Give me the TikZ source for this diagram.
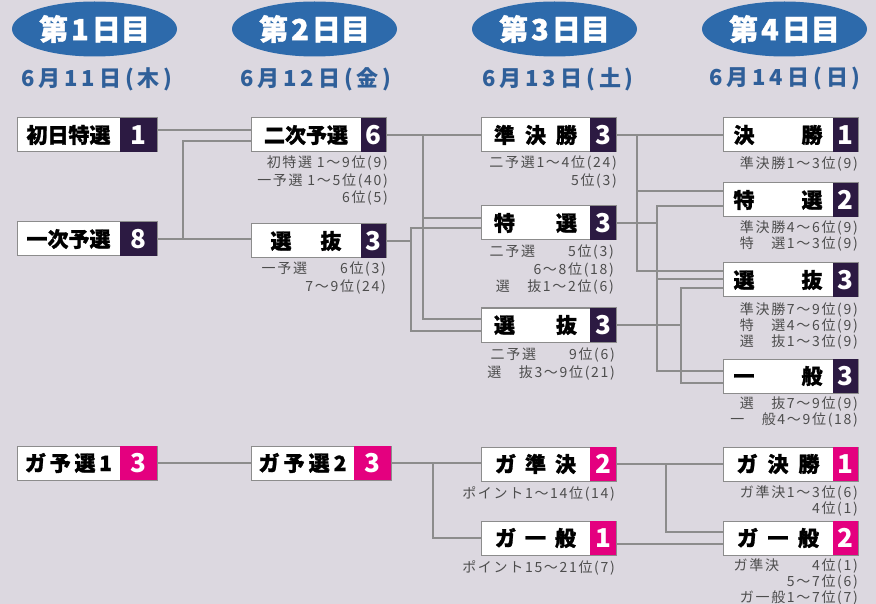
\documentclass[tikz,border=0pt]{standalone}
\usepackage{fontspec}
\setmainfont{Noto Sans CJK JP}
\newfontfamily\subfont[LetterSpace=12]{Noto Sans CJK JP}
\newfontfamily\datefont[LetterSpace=18]{Noto Sans CJK JP}
\newfontfamily\lblfont[BoldFeatures={FakeBold=1.2}]{Noto Sans CJK JP}
\usetikzlibrary{calc,shapes.geometric}
\definecolor{bgc}{HTML}{DCD8E0}
\definecolor{darkp}{HTML}{2C1A42}
\definecolor{pinkc}{HTML}{E4007F}
\definecolor{headc}{HTML}{2D6AAB}
\definecolor{datec}{HTML}{2F5F99}
\definecolor{linec}{HTML}{8C8C8C}
\definecolor{subc}{HTML}{4D4D4D}
\newcommand\entry[8]{%
  \node[boxst, minimum width=#4pt, anchor=north west] (#1) at (#2,#3) {};
  \node[numst, fill=#6, minimum width=#5pt, anchor=north east] (#1n) at (#1.north east) {#8};
  \path (#1.west) -- (#1n.west) node[midway, lblst] (#1l) {#7};
}
\begin{document}
\begin{tikzpicture}[x=1pt,y=-1pt,
  boxst/.style={draw=linec, line width=1pt, fill=white, minimum height=34pt, inner sep=0pt, outer sep=0pt},
  numst/.style={text=white, font=\bfseries\fontsize{26}{26}\selectfont, minimum height=34pt, inner sep=0pt, outer sep=0pt},
  lblst/.style={font=\lblfont\bfseries\fontsize{21}{21}\selectfont, inner sep=0pt},
  headst/.style={ellipse, fill=headc, minimum width=165pt, minimum height=55pt, inner sep=0pt, text=white, font=\lblfont\bfseries\fontsize{29}{29}\selectfont},
  datest/.style={text=datec, font=\datefont\bfseries\fontsize{22}{22}\selectfont, inner sep=0pt},
  subst/.style={text=subc, font=\subfont\fontsize{14}{17.5}\selectfont, align=right, inner sep=0pt, anchor=north east},
  subtight/.style={subst, font=\subfont\fontsize{14}{16}\selectfont},
  conn/.style={draw=linec, line width=1.2pt}]
\useasboundingbox (0,0) rectangle (876,604);
\fill[bgc] (0,0) rectangle (876,604);
% headers
\node[headst] (h1) at (94.5,29) {第\hspace{3pt}1\hspace{3pt}日目};
\node[headst] (h2) at (314.5,29) {第\hspace{3pt}2\hspace{3pt}日目};
\node[headst] (h3) at (554.5,29) {第\hspace{3pt}3\hspace{3pt}日目};
\node[headst] (h4) at (784.5,29) {第\hspace{3pt}4\hspace{3pt}日目};
\node[datest] (d1) at (97,79) {6月11日(木)};
\node[datest] (d2) at (316,79) {6月12日(金)};
\node[datest] (d3) at (558,79) {6月13日(土)};
\node[datest] (d4) at (785,79) {6月14日(日)};
% boxes
\entry{b11}{17}{118}{140}{37}{darkp}{初日特選}{1}
\entry{b12}{17}{222}{140}{37}{darkp}{一次予選}{8}
\entry{b21}{251}{118}{135}{25}{darkp}{二次予選}{6}
\entry{b22}{251}{224}{135}{25}{darkp}{\makebox[71pt][s]{選\hfill 抜}}{3}
\entry{b31}{481}{118}{135}{26}{darkp}{\makebox[83pt][s]{準\hfill 決\hfill 勝}}{3}
\entry{b32}{481}{206}{135}{26}{darkp}{\makebox[83pt][s]{特\hfill 選}}{3}
\entry{b33}{481}{308}{135}{26}{darkp}{\makebox[83pt][s]{選\hfill 抜}}{3}
\entry{b41}{723}{118}{135}{25}{darkp}{\makebox[89pt][s]{決\hfill 勝}}{1}
\entry{b42}{723}{183}{135}{25}{darkp}{\makebox[89pt][s]{特\hfill 選}}{2}
\entry{b43}{723}{263}{135}{25}{darkp}{\makebox[89pt][s]{選\hfill 抜}}{3}
\entry{b44}{723}{359}{135}{25}{darkp}{\makebox[89pt][s]{一\hfill 般}}{3}
\entry{b15}{17}{446}{140}{37}{pinkc}{\makebox[87pt][s]{ガ\hfill 予\hfill 選\hfill 1}}{3}
\entry{b25}{251}{446}{140}{37}{pinkc}{\makebox[88pt][s]{ガ\hfill 予\hfill 選\hfill 2}}{3}
\entry{b35}{481}{447}{135}{26}{pinkc}{\makebox[81pt][s]{ガ\hfill 準\hfill 決}}{2}
\entry{b36}{481}{521}{135}{26}{pinkc}{\makebox[81pt][s]{ガ\hfill 一\hfill 般}}{1}
\entry{b45}{723}{447}{135}{25}{pinkc}{\makebox[83pt][s]{ガ\hfill 決\hfill 勝}}{1}
\entry{b46}{723}{521}{135}{25}{pinkc}{\makebox[82pt][s]{ガ\hfill 一\hfill 般}}{2}
% sub texts
\node[subst] (s21) at (388,156) {初特選 1～9位(9)\\一予選 1～5位(40)\\6位(5)};
\node[subst] (s22) at (386,262) {一予選　　6位(3)\\7～9位(24)};
\node[subst] (s31) at (617,156) {二予選1～4位(24)\\5位(3)};
\node[subst] (s32) at (614,245) {二予選　　5位(3)\\6～8位(18)\\選　抜1～2位(6)};
\node[subst] (s33) at (615,348) {二予選　　9位(6)\\選　抜3～9位(21)};
\node[subst] (s41) at (858,156) {準決勝1～3位(9)};
\node[subtight] (s42) at (858,220) {準決勝4～6位(9)\\特　選1～3位(9)};
\node[subtight] (s43) at (858,302) {準決勝7～9位(9)\\特　選4～6位(9)\\選　抜1～3位(9)};
\node[subtight] (s44) at (858,397) {選　抜7～9位(9)\\一　般4～9位(18)};
\node[subst] (s35) at (615,486) {ポイント1～14位(14)};
\node[subst] (s36) at (615,560) {ポイント15～21位(7)};
\node[subtight] (s45) at (858,485) {ガ準決1～3位(6)\\4位(1)};
\node[subtight] (s46) at (858,558) {ガ準決　　4位(1)\\5～7位(6)\\ガ一般1～7位(7)};
% junction columns
\coordinate (j1) at (183,0);
\coordinate (j2) at (423,0);
\coordinate (j3) at (411,280);
\coordinate (j4) at (637,0);
\coordinate (j5) at (657,300);
\coordinate (j6) at (681,330);
\coordinate (j7) at (433,0);
\coordinate (j8) at (666,0);
% entry points
\coordinate (t21a) at ($(b21.north west)+(0,12)$);
\coordinate (t21b) at ($(b21.north west)+(0,23)$);
\coordinate (t32a) at ($(b32.north west)+(0,12)$);
\coordinate (t32b) at ($(b32.north west)+(0,22)$);
\coordinate (t33a) at ($(b33.north west)+(0,11)$);
\coordinate (t33b) at ($(b33.north west)+(0,23)$);
\coordinate (t42a) at ($(b42.north west)+(0,8)$);
\coordinate (t42b) at ($(b42.north west)+(0,23)$);
\coordinate (t43a) at ($(b43.north west)+(0,8)$);
\coordinate (t43b) at ($(b43.north west)+(0,16)$);
\coordinate (t43c) at ($(b43.north west)+(0,25)$);
\coordinate (t44a) at ($(b44.north west)+(0,12)$);
\coordinate (t44b) at ($(b44.north west)+(0,24)$);
\coordinate (t36a) at ($(b36.north west)+(0,17)$);
\coordinate (t46a) at ($(b46.north west)+(0,11)$);
\coordinate (t46b) at ($(b46.north west)+(0,23)$);
\coordinate (f11) at ($(b11.north east)+(0,12)$);
\coordinate (f36) at ($(b36.north east)+(0,23)$);
% connectors day1 -> day2
\draw[conn] (f11) -- (t21a);
\draw[conn] (b12.east) -- (b12.east -| b22.west);
\draw[conn] (j1 |- b12.east) |- (t21b);
% day2 -> day3
\draw[conn] (b21.east) -- (b31.west);
\draw[conn] (b21.east -| j2) |- (t32a);
\draw[conn] (b21.east -| j2) |- (t33a);
\draw[conn] (b22.east) -- (b22.east -| j3);
\draw[conn] (t32b) -| (j3) |- (t33b);
% day3 -> day4
\draw[conn] (b31.east) -- (b41.west);
\draw[conn] (b31.east -| j4) |- (t42a);
\draw[conn] (b31.east -| j4) |- (t43a);
\draw[conn] (b32.east) -- (b32.east -| j5);
\draw[conn] (t42b) -| (j5) |- (t44a);
\draw[conn] (t43b) -- (t43b -| j5);
\draw[conn] (b33.east) -- (b33.east -| j6);
\draw[conn] (t43c) -| (j6) |- (t44b);
% girls
\draw[conn] (b15.east) -- (b25.west);
\draw[conn] (b25.east) -- (b25.east -| b35.west);
\draw[conn] (b25.east -| j7) |- (t36a);
\draw[conn] (b35.east) -- (b45.west);
\draw[conn] (b35.east -| j8) |- (t46a);
\draw[conn] (f36) -- (t46b);
\end{tikzpicture}
\end{document}
